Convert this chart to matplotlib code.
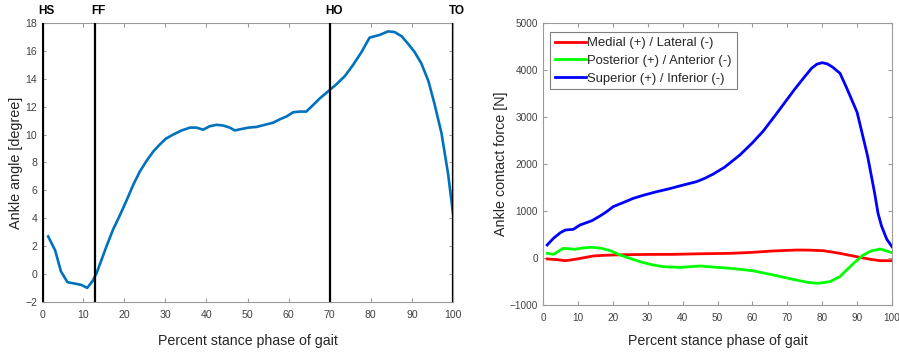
import matplotlib
matplotlib.use("Agg")
import matplotlib.pyplot as plt

plt.rcParams['font.family'] = ['Liberation Sans', 'DejaVu Sans']

# ---- Left panel: ankle angle ----
angle_x = [1.5, 3.2, 4.6, 6.2, 8.0, 9.6, 11.0, 12.3, 13.3, 14.5, 15.7, 17.3, 19.0, 20.6, 22.2,
           23.8, 25.4, 27.1, 28.7, 30.1, 31.9, 34.0, 36.0, 37.6, 39.2, 40.8, 42.5, 44.1, 45.7,
           46.9, 48.5, 50.2, 52.2, 54.2, 56.2, 57.9, 59.5, 61.1, 62.7, 64.3, 65.9, 67.6, 70.0,
           71.6, 73.7, 75.7, 77.7, 79.7, 82.2, 84.2, 85.8, 87.5, 89.1, 90.7, 92.3, 94.0, 95.5,
           97.2, 98.8, 100.0]
angle_y = [2.7, 1.7, 0.2, -0.58, -0.68, -0.78, -0.99, -0.5, 0.08, 1.04, 2.0, 3.2, 4.25, 5.3, 6.4,
           7.35, 8.1, 8.8, 9.3, 9.7, 10.0, 10.3, 10.5, 10.5, 10.35, 10.6, 10.7, 10.65, 10.5,
           10.3, 10.4, 10.5, 10.55, 10.7, 10.85, 11.1, 11.3, 11.6, 11.65, 11.65, 12.1, 12.6, 13.2,
           13.6, 14.2, 15.0, 15.9, 16.95, 17.15, 17.4, 17.35, 17.05, 16.5, 15.9, 15.1, 13.85, 12.2,
           10.1, 7.2, 4.35]
event_x = [0.3, 13, 70, 100]
event_labels = ['HS', 'FF', 'HO', 'TO']

# ---- Right panel: ankle contact force ----
sup_x = [1.2, 3, 5, 6.4, 8.7, 10.6, 12, 14, 16.8, 18.5, 20.1, 23, 25.9, 29, 32.6, 36, 40.2, 44,
         46.5, 48.8, 52, 56.4, 60, 63.1, 67, 70, 72, 75, 77, 78.5, 80, 81.5, 83, 85.1, 87, 90,
         93, 95, 96, 97, 98.5, 100]
sup_y = [277, 420, 540, 595, 610, 702, 740, 793, 915, 1000, 1092, 1180, 1270, 1340, 1411, 1470,
         1553, 1624, 1700, 1787, 1930, 2191, 2450, 2700, 3080, 3380, 3580, 3860, 4040, 4125, 4155,
         4130, 4060, 3930, 3620, 3100, 2170, 1390, 950, 680, 400, 240]
med_x = [1.2, 4, 6.3, 9.2, 12, 14.4, 17, 20.1, 25, 30, 37.3, 45, 53.6, 60, 66, 72.7, 76, 80.3,
         85, 90.8, 94, 96.6, 100]
med_y = [-21, -35, -57, -28, 10, 43, 55, 64, 72, 76, 78, 90, 99, 120, 150, 170, 168, 156, 100,
         14, -30, -57, -57]
post_x = [1.2, 3, 5.8, 7.5, 9.2, 11.5, 14, 16.8, 19.5, 22.1, 25, 27.8, 31, 34.5, 39.3, 45, 53.6,
          60, 66, 72, 76, 78.9, 82.2, 85, 87, 89.5, 91.8, 94, 96.6, 98, 100]
post_y = [99, 78, 206, 195, 185, 215, 228, 206, 150, 64, -10, -78, -140, -185, -199, -170, -220,
          -270, -362, -460, -520, -539, -503, -400, -255, -80, 64, 150, 191, 160, 113]
series_labels = ['Medial (+) / Lateral (-)', 'Posterior (+) / Anterior (-)',
                 'Superior (+) / Inferior (-)']

W, H = 899, 352
fig = plt.figure(figsize=(W / 100, H / 100), dpi=100)

spine_col = '#9a9a9a'
tick_col = '#404040'
label_col = '#262626'

def style(ax, fs):
    for s in ax.spines.values():
        s.set_color(spine_col)
        s.set_linewidth(0.8)
    ax.tick_params(direction='in', top=True, right=True, length=3, width=0.8,
                   color=spine_col, labelcolor=tick_col, labelsize=fs)
    ax.tick_params(axis='x', pad=5.5)
    ax.tick_params(axis='y', pad=3.5)

# Left axes
x0, x1, yt, yb = 42, 453, 23, 302
ax1 = fig.add_axes([x0 / W, 1 - yb / H, (x1 - x0) / W, (yb - yt) / H])
ax1.plot(angle_x, angle_y, color='#0072BD', lw=1.9, zorder=3)
for ex, lab in zip(event_x, event_labels):
    ax1.axvline(ex, color='black', lw=1.6, zorder=4)
    ax1.text(ex - 1.1, 18.85, lab, ha='left', va='center', fontsize=8.5, fontweight='bold',
             color='black', clip_on=False)
ax1.set_xlim(0, 100)
ax1.set_ylim(-2, 18)
ax1.set_xticks(range(0, 101, 10))
ax1.set_yticks(range(-2, 19, 2))
style(ax1, 7.6)
ax1.set_xlabel('Percent stance phase of gait', fontsize=10.2, color=label_col)
ax1.xaxis.set_label_coords(0.5, (yb - 341.5) / (yb - yt))
ax1.xaxis.label.set_va('center')
ax1.set_ylabel('Ankle angle [degree]', fontsize=10.4, color=label_col)
ax1.yaxis.set_label_coords((16.5 - x0) / (x1 - x0), 0.5)
ax1.yaxis.label.set_va('center')

# Right axes
x0, x1, yt, yb = 543, 892, 23, 305
ax2 = fig.add_axes([x0 / W, 1 - yb / H, (x1 - x0) / W, (yb - yt) / H])
ax2.plot(med_x, med_y, color='#ff0000', lw=2.0, label=series_labels[0])
ax2.plot(post_x, post_y, color='#00ff00', lw=2.0, label=series_labels[1])
ax2.plot(sup_x, sup_y, color='#0000ff', lw=2.0, label=series_labels[2])
ax2.set_xlim(0, 100)
ax2.set_ylim(-1000, 5000)
ax2.set_xticks(range(0, 101, 10))
ax2.set_yticks(range(-1000, 5001, 1000))
style(ax2, 7.2)
ax2.set_xlabel('Percent stance phase of gait', fontsize=10.2, color=label_col)
ax2.xaxis.set_label_coords(0.5, (yb - 341.5) / (yb - yt))
ax2.xaxis.label.set_va('center')
ax2.set_ylabel('Ankle contact force [N]', fontsize=10.3, color=label_col)
ax2.yaxis.set_label_coords((501.5 - x0) / (x1 - x0), 0.5)
ax2.yaxis.label.set_va('center')
leg = ax2.legend(loc='upper left', bbox_to_anchor=((550 - x0) / (x1 - x0), (yb - 32.3) / (yb - yt)),
                 fontsize=9.4, handlelength=2.35, handletextpad=0.15, labelspacing=0.42,
                 borderpad=0.37, borderaxespad=0, fancybox=False, framealpha=1,
                 edgecolor='#7f7f7f')
leg.get_frame().set_linewidth(0.8)
for t in leg.get_texts():
    t.set_color(label_col)

fig.savefig('out.png', dpi=100)
